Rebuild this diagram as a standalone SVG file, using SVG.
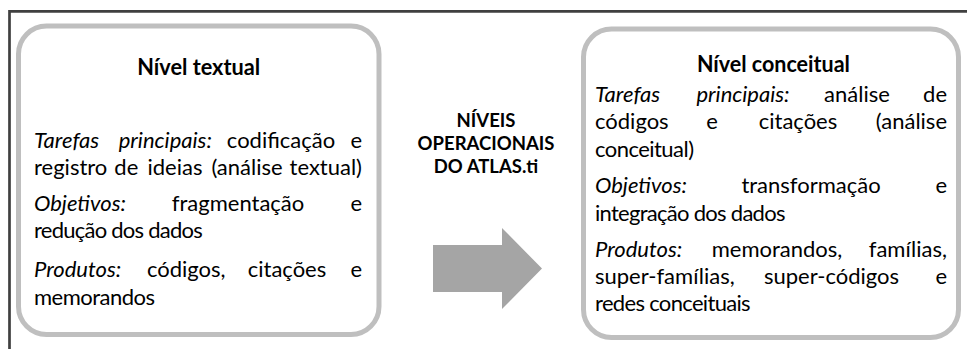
<svg xmlns="http://www.w3.org/2000/svg" width="967" height="349" viewBox="0 0 967 349">
<style>
text{font-family:Lato,"Liberation Sans",sans-serif;fill:#000;}
.b{font-size:22px;}
.i{font-style:italic;}
.h{font-size:23px;font-weight:bold;}
.c{font-size:18.5px;font-weight:bold;}
.box{fill:#fff;stroke:#bfbfbf;stroke-width:5;}
.frame{fill:none;stroke:#404040;stroke-width:2.7;}
.arrow{fill:#a5a5a5;stroke:none;}
</style>
<rect width="967" height="349" fill="#fff"/>
<path class="frame" d="M9.5 349 V11.3 H967"/>
<g id="node-textual">
<rect class="box" x="18.5" y="26" width="360.5" height="308.5" rx="28" ry="28"/>
<text class="h" x="198.7" y="75" text-anchor="middle" textLength="123" lengthAdjust="spacingAndGlyphs">Nível textual</text>
<text class="b i" x="34" y="148.3">Tarefas</text>
<text class="b i" x="165.3" y="148.3" text-anchor="middle">principais:</text>
<text class="b" x="281" y="148.3" text-anchor="middle">codificação</text>
<text class="b" x="362" y="148.3" text-anchor="end">e</text>
<text class="b" x="34" y="175.3">registro</text>
<text class="b" x="126.3" y="175.3" text-anchor="middle">de</text>
<text class="b" x="175" y="175.3" text-anchor="middle">ideias</text>
<text class="b" x="247" y="175.3" text-anchor="middle">(análise</text>
<text class="b" x="362" y="175.3" text-anchor="end">textual)</text>
<text class="b i" x="34" y="211.3">Objetivos:</text>
<text class="b" x="238" y="211.3" text-anchor="middle">fragmentação</text>
<text class="b" x="362" y="211.3" text-anchor="end">e</text>
<text class="b" x="34" y="238.3" textLength="168.7" lengthAdjust="spacing">redução dos dados</text>
<text class="b i" x="34" y="277.3">Produtos:</text>
<text class="b" x="186.3" y="277.3" text-anchor="middle">códigos,</text>
<text class="b" x="287" y="277.3" text-anchor="middle">citações</text>
<text class="b" x="362" y="277.3" text-anchor="end">e</text>
<text class="b" x="34" y="305" textLength="121" lengthAdjust="spacing">memorandos</text>
</g>
<g id="node-label">
<text class="c" x="486" y="126.7" text-anchor="middle">NÍVEIS</text>
<text class="c" x="486" y="150" text-anchor="middle">OPERACIONAIS</text>
<text class="c" x="486" y="173.3" text-anchor="middle">DO ATLAS.ti</text>
</g>
<g id="node-conceitual">
<rect class="box" x="583.5" y="29" width="375" height="308.5" rx="28" ry="28"/>
<text class="h" x="773.4" y="71.7" text-anchor="middle" textLength="153" lengthAdjust="spacingAndGlyphs">Nível conceitual</text>
<text class="b i" x="595" y="101.7">Tarefas</text>
<text class="b i" x="743" y="101.7" text-anchor="middle">principais:</text>
<text class="b" x="857" y="101.7" text-anchor="middle">análise</text>
<text class="b" x="947" y="101.7" text-anchor="end">de</text>
<text class="b" x="595" y="129">códigos</text>
<text class="b" x="712" y="129" text-anchor="middle">e</text>
<text class="b" x="798" y="129" text-anchor="middle">citações</text>
<text class="b" x="947" y="129" text-anchor="end">(análise</text>
<text class="b" x="595" y="156.5" textLength="99" lengthAdjust="spacing">conceitual)</text>
<text class="b i" x="595" y="193.3">Objetivos:</text>
<text class="b" x="811" y="193.3" text-anchor="middle">transformação</text>
<text class="b" x="947" y="193.3" text-anchor="end">e</text>
<text class="b" x="595" y="220.5" textLength="190.5" lengthAdjust="spacing">integração dos dados</text>
<text class="b i" x="595" y="256.7">Produtos:</text>
<text class="b" x="777" y="256.7" text-anchor="middle">memorandos,</text>
<text class="b" x="947" y="256.7" text-anchor="end">famílias,</text>
<text class="b" x="595" y="284">super-famílias,</text>
<text class="b" x="831.5" y="284" text-anchor="middle">super-códigos</text>
<text class="b" x="947" y="284" text-anchor="end">e</text>
<text class="b" x="595" y="311.3" textLength="155.6" lengthAdjust="spacing">redes conceituais</text>
</g>
<g id="connectors">
<polygon class="arrow" points="433,245 502,245 502,228 542,268.5 502,309 502,292 433,292"/>
</g>
</svg>
